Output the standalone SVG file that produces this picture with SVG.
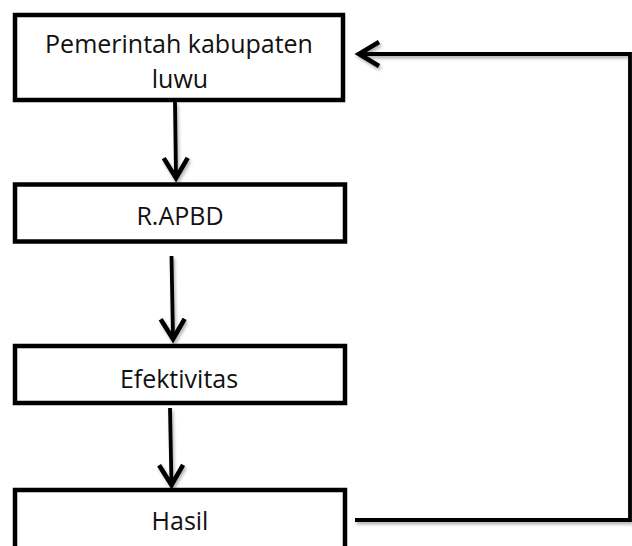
<svg xmlns="http://www.w3.org/2000/svg" width="632" height="546" viewBox="0 0 632 546">
  <style>
    .box { fill: #ffffff; stroke: #000000; stroke-width: 4.5; stroke-linejoin: miter; }
    .label { font-family: "Open Sans", "Liberation Sans", sans-serif; font-size: 25px; fill: #111111; text-anchor: middle; }
    .link { fill: none; stroke: #000000; stroke-width: 3.8; stroke-linejoin: miter; filter: url(#soft); }
  </style>
  <defs>
    <!-- shadow region spans the whole canvas so thin vertical strokes are not clipped -->
    <filter id="soft" filterUnits="userSpaceOnUse" x="0" y="0" width="632" height="546">
      <feDropShadow dx="1.5" dy="2.5" stdDeviation="1.5" flood-color="#000000" flood-opacity="0.3"/>
    </filter>
    <marker id="chevron" markerUnits="userSpaceOnUse" viewBox="-28 -18 36 36" refX="0" refY="0" markerWidth="36" markerHeight="36" orient="auto">
      <path d="M-20,-12 L0,0 L-20,12" fill="none" stroke="#000000" stroke-width="4.6" stroke-linejoin="miter"/>
    </marker>
  </defs>

  <rect width="632" height="546" fill="#ffffff"/>

  <!-- flow connectors -->
  <g id="connectors">
    <path class="link" d="M175,102 L176,178" marker-end="url(#chevron)"/>
    <path class="link" d="M171.5,256 L173,339" marker-end="url(#chevron)"/>
    <path class="link" d="M170,408 L171.5,485" marker-end="url(#chevron)"/>
    <path class="link" d="M355,520 H630 V54 H359" marker-end="url(#chevron)"/>
  </g>

  <g id="pemerintah">
    <rect class="box" x="15" y="15" width="328" height="85"/>
    <text class="label" x="179" y="53">Pemerintah kabupaten</text>
    <text class="label" x="180" y="88">luwu</text>
  </g>

  <g id="rapbd">
    <rect class="box" x="15" y="184.5" width="330" height="57"/>
    <text class="label" x="180" y="225">R.APBD</text>
  </g>

  <g id="efektivitas">
    <rect class="box" x="15" y="346" width="330" height="57"/>
    <text class="label" x="179" y="388">Efektivitas</text>
  </g>

  <g id="hasil">
    <path class="box" d="M15,552 V490 H345 V552"/>
    <text class="label" x="180" y="530">Hasil</text>
  </g>
</svg>
